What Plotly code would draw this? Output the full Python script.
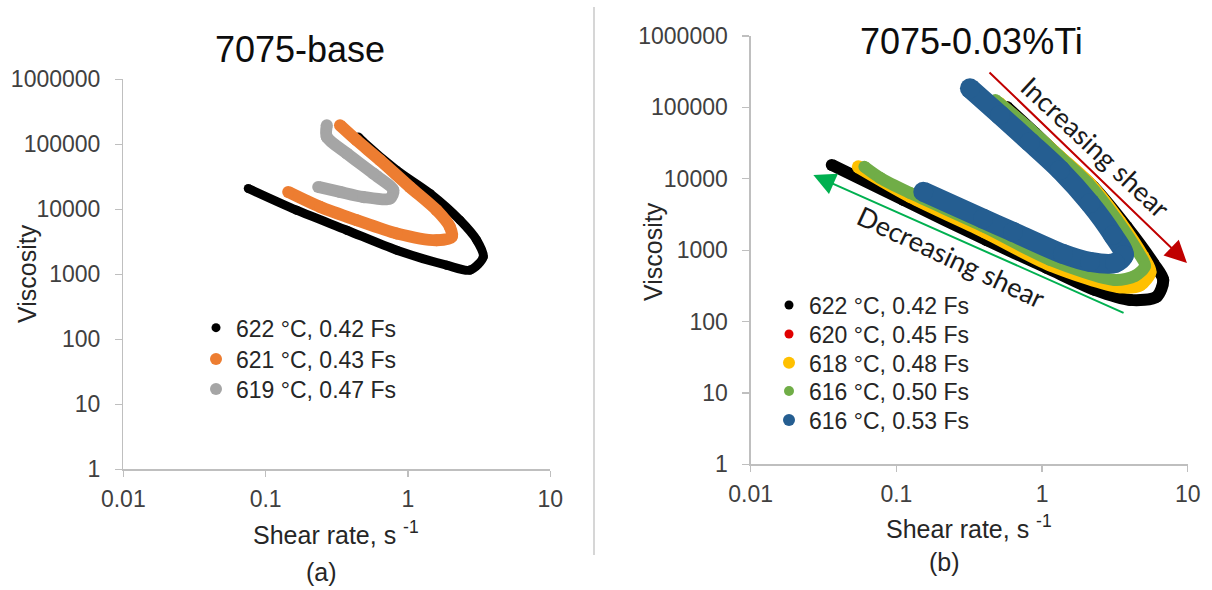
import plotly.graph_objects as go

# ---------------- data ----------------
# Panel (a) 7075-base : shear rate (1/s) and viscosity
base_622_x = [0.448, 0.485, 0.834, 1.43, 2.32, 3.04, 3.38, 2.73, 1.87, 0.834, 0.372, 0.165, 0.0755]
base_622_y = [130000, 109000, 39900, 17500, 6800, 3360, 1850, 1160, 1380, 2350, 4770, 9680, 20900]

base_621_x = [0.333, 0.436, 0.637, 1.03, 1.59, 1.97, 2.03, 1.59, 0.834, 0.436, 0.241, 0.144]
base_621_y = [196000, 115000, 56900, 22100, 9680, 5360, 3770, 3350, 4250, 6800, 10900, 18500]

base_619_x = [0.269, 0.269, 0.372, 0.571, 0.789, 0.748, 0.485, 0.333, 0.234]
base_619_y = [196000, 130000, 72100, 35500, 19700, 14700, 15500, 18500, 22100]

# Panel (b) 7075-0.03%Ti
ti_622_x = [0.575, 0.895, 1.40, 2.25, 3.81, 5.81, 6.79, 6.12, 4.02, 2.31, 1.08, 0.417, 0.112, 0.036]
ti_622_y = [101000, 43700, 18300, 7740, 2130, 656, 383, 223, 201, 277, 564, 1380, 5050, 15600]

ti_620_x = [0.52, 0.83, 1.33, 2.13, 3.43, 4.85, 5.35, 4.6, 3.4, 1.14, 0.41, 0.125, 0.056]
ti_620_y = [112000, 48000, 20000, 8400, 2450, 800, 500, 335, 315, 630, 1820, 5400, 14700]

ti_618_x = [0.506, 0.826, 1.33, 2.13, 3.43, 4.93, 5.51, 4.71, 3.43, 1.14, 0.405, 0.124, 0.0548]
ti_618_y = [115000, 48200, 20200, 8460, 2480, 804, 495, 326, 306, 621, 1800, 5700, 14700]

ti_616a_x = [0.478, 0.80, 1.29, 2.07, 3.27, 4.56, 5.09, 4.35, 3.17, 1.14, 0.405, 0.124, 0.0773, 0.0603]
ti_616a_y = [127000, 53100, 21500, 8740, 2650, 944, 601, 436, 383, 730, 2110, 6330, 10300, 14700]

ti_616b_x = [0.32, 0.515, 0.826, 1.33, 2.13, 3.07, 3.65, 3.17, 2.13, 1.39, 0.632, 0.394, 0.153]
ti_616b_y = [185000, 78300, 32700, 13300, 4540, 1630, 857, 661, 684, 885, 1800, 2760, 6590]

base_labels = ["622 °C, 0.42 Fs", "621 °C, 0.43 Fs", "619 °C, 0.47 Fs"]
ti_labels = ["622 °C, 0.42 Fs", "620 °C, 0.45 Fs", "618 °C, 0.48 Fs",
             "616 °C, 0.50 Fs", "616 °C, 0.53 Fs"]

x_tickvals = [0.01, 0.1, 1, 10]
x_ticktext = ["0.01", "0.1", "1", "10"]
y_tickvals = [1, 10, 100, 1000, 10000, 100000, 1000000]
y_ticktext = ["1", "10", "100", "1000", "10000", "100000", "1000000"]

# ---------------- styling ----------------
W, H = 1212, 590
FONT = "Liberation Sans, Arial, sans-serif"
TXT = "#262626"
AXC = "#BFBFBF"

def px(xp):
    return xp / W

def py(yp):
    return 1 - yp / H

fig = go.Figure()

def curve(x, y, color, width, xa, ya):
    fig.add_trace(go.Scatter(
        x=x, y=y, mode="lines+markers", xaxis=xa, yaxis=ya,
        line=dict(color=color, width=width, shape="spline", smoothing=0.8),
        marker=dict(color=color, size=width, line=dict(width=0)),
        showlegend=False, hoverinfo="skip"))

legend_layout = {}
legend_count = [0]

def legend_entry(name, color, size, marker_x, row_y):
    legend_count[0] += 1
    key = "legend" if legend_count[0] == 1 else "legend%d" % legend_count[0]
    fig.add_trace(go.Scatter(
        x=[None], y=[None], mode="markers", name=name, legend=key,
        marker=dict(color=color, size=size, line=dict(width=0)),
        showlegend=True))
    legend_layout[key] = dict(
        x=px(marker_x - 21), y=py(row_y - 21.5), xanchor="left", yanchor="top",
        bgcolor="rgba(0,0,0,0)", borderwidth=0,
        font=dict(family=FONT, size=23, color=TXT))

# panel (a)
curve(base_622_x, base_622_y, "#000000", 9, "x", "y")
curve(base_621_x, base_621_y, "#ED7D31", 12, "x", "y")
curve(base_619_x, base_619_y, "#A5A5A5", 12, "x", "y")
legend_entry(base_labels[0], "#000000", 9, 217, 327.7)
legend_entry(base_labels[1], "#ED7D31", 12, 217, 359)
legend_entry(base_labels[2], "#A5A5A5", 12, 217, 389)

# panel (b)
curve(ti_622_x, ti_622_y, "#000000", 12, "x2", "y2")
curve(ti_620_x, ti_620_y, "#E00000", 10, "x2", "y2")
curve(ti_618_x, ti_618_y, "#FFC000", 13, "x2", "y2")
curve(ti_616a_x, ti_616a_y, "#70AD47", 12, "x2", "y2")
curve(ti_616b_x, ti_616b_y, "#255E91", 20, "x2", "y2")
legend_entry(ti_labels[0], "#000000", 9, 790, 305)
legend_entry(ti_labels[1], "#E00000", 9, 790, 334)
legend_entry(ti_labels[2], "#FFC000", 12, 790, 362.7)
legend_entry(ti_labels[3], "#70AD47", 10, 790, 391)
legend_entry(ti_labels[4], "#255E91", 12, 790, 420)

def axis_common():
    return dict(type="log", showline=True, linecolor=AXC, linewidth=1.3,
                ticks="outside", tickcolor=AXC, tickwidth=1.3,
                showgrid=False, zeroline=False, mirror=False, automargin=False,
                fixedrange=True,
                tickfont=dict(family=FONT, size=23, color="#404040"))

xa = axis_common()
xa.update(range=[-2, 1], tickvals=x_tickvals, ticktext=x_ticktext, ticklen=6,
          ticklabelstandoff=3)
ya = axis_common()
ya.update(range=[0, 6], tickvals=y_tickvals, ticktext=y_ticktext, ticklen=7,
          ticklabelstandoff=10)

fig.update_layout(
    width=W, height=H,
    margin=dict(l=0, r=0, t=0, b=0, autoexpand=False),
    paper_bgcolor="white", plot_bgcolor="white",
    xaxis=dict(xa, domain=[px(123.3), px(550.3)], anchor="y"),
    yaxis=dict(ya, domain=[py(469.3), py(79.3)], anchor="x"),
    xaxis2=dict(xa, domain=[px(750.7), px(1187.7)], anchor="y2"),
    yaxis2=dict(ya, domain=[py(464.3), py(36.0)], anchor="x2"),
    showlegend=True,
    **legend_layout,
)

ann = []
def text(s, xp, yp, size, angle=0, family=FONT, color=TXT):
    ann.append(dict(text=s, x=px(xp), y=py(yp), xref="paper", yref="paper",
                    xanchor="center", yanchor="middle", showarrow=False,
                    textangle=angle, font=dict(family=family, size=size, color=color)))

text("7075-base", 300, 49, 36, color="#0d0d0d")
text("7075-0.03%Ti", 971.5, 41, 36, color="#0d0d0d")
text("Viscosity", 27, 274, 25, angle=-90)
text("Viscosity", 653, 252, 25, angle=-90)
text("Shear rate, s <sup>-1</sup>", 336, 533, 25)
text("Shear rate, s <sup>-1</sup>", 969, 527, 25)
text("(a)", 321, 572, 25)
text("(b)", 944.5, 562, 25)
text("Increasing shear", 1095, 147, 27, angle=43, family="Lato, Carlito, sans-serif", color="#1a1a1a")
text("Decreasing shear", 951, 256, 27, angle=25, family="Lato, Carlito, sans-serif", color="#1a1a1a")

# arrows (log10 coordinates on the right panel axes)
ann.append(dict(x=0.995, y=2.821, ax=-0.371, ay=5.51, xref="x2", yref="y2",
                axref="x2", ayref="y2", showarrow=True, text="",
                arrowhead=2, arrowsize=2.2, arrowwidth=2, arrowcolor="#C00000"))
ann.append(dict(x=-1.570, y=4.053, ax=0.57, ay=2.113, xref="x2", yref="y2",
                axref="x2", ayref="y2", showarrow=True, text="",
                arrowhead=2, arrowsize=2.2, arrowwidth=2, arrowcolor="#00B050"))
fig.update_layout(annotations=ann)

fig.add_shape(type="line", xref="paper", yref="paper",
              x0=px(594), x1=px(594), y0=py(555), y1=py(7),
              line=dict(color="#C8C8C8", width=1.5))

fig.write_html(
    "out.html",
    config={"displayModeBar": False, "staticPlot": True},
    post_script="document.body.style.margin='0';document.body.style.overflow='hidden';",
)
